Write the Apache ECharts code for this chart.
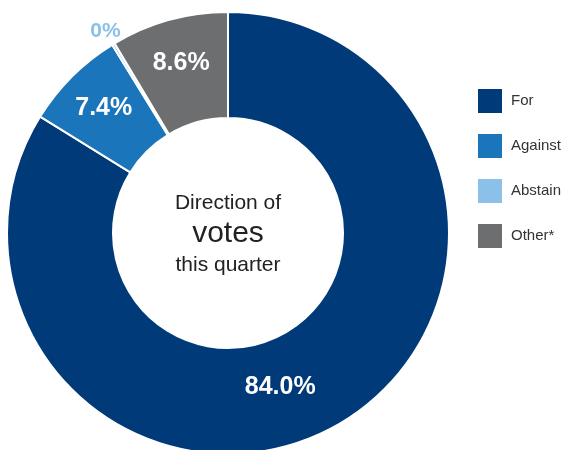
<!DOCTYPE html>
<html><head><meta charset="utf-8">
<script src="https://cdn.jsdelivr.net/npm/echarts@6/dist/echarts.min.js"></script>
<style>html,body{margin:0;padding:0;background:#fff}#c{width:571px;height:450px}</style>
</head><body><div id="c"></div>
<script>
const categories = ['For', 'Against', 'Abstain', 'Other*'];
const values = [84.0, 7.4, 0.2, 8.6];
const labels = ['84.0%', '7.4%', '0%', '8.6%'];
const colors = ['#003A78', '#1B75BB', '#8BC1E9', '#6D6E70'];

const chart = echarts.init(document.getElementById('c'));
const cx = 228, cy = 233, R = 221, r0 = 115;
const total = values.reduce((a, b) => a + b, 0);
function labelPos(i) {
  let cum = 0;
  for (let k = 0; k < i; k++) cum += values[k];
  let mid = (cum + values[i] / 2) / total * 2 * Math.PI;
  let rr = 176;
  if (i === 0) { mid = 161.3 / 180 * Math.PI; rr = 163; }
  if (i === 2) { rr = 236; }
  return [cx + rr * Math.sin(mid), cy - rr * Math.cos(mid)];
}
chart.setOption({
  animation: false,
  legend: {
    orient: 'vertical', left: 476, top: 87, padding: 0,
    itemWidth: 26, itemHeight: 26, itemGap: 17,
    icon: 'rect',
    textStyle: { fontSize: 15, color: '#333', fontFamily: 'Liberation Sans, Arial, sans-serif', padding: [0, 0, 0, 3] },
    data: categories
  },
  graphic: [
    { type: 'text', x: cx, y: 203, style: { text: 'Direction of', fill: '#222', font: '21px "Liberation Sans", Arial, sans-serif', textAlign: 'center', textVerticalAlign: 'middle' } },
    { type: 'text', x: cx, y: 234, style: { text: 'votes', fill: '#222', font: '30px "Liberation Sans", Arial, sans-serif', textAlign: 'center', textVerticalAlign: 'middle' } },
    { type: 'text', x: cx, y: 265, style: { text: 'this quarter', fill: '#222', font: '21px "Liberation Sans", Arial, sans-serif', textAlign: 'center', textVerticalAlign: 'middle' } }
  ],
  series: [{
    type: 'pie',
    center: [cx, cy],
    radius: [r0, R],
    startAngle: 90,
    clockwise: true,
    avoidLabelOverlap: false,
    itemStyle: { borderColor: '#fff', borderWidth: 2 },
    label: {
      show: true, position: 'inside',
      formatter: p => labels[p.dataIndex],
      color: '#fff', fontSize: 25, fontWeight: 'bold',
      fontFamily: 'Liberation Sans, Arial, sans-serif'
    },
    labelLine: { show: false },
    labelLayout: function (p) {
      const pos = labelPos(p.dataIndex);
      return { x: pos[0], y: pos[1], align: 'center', verticalAlign: 'middle' };
    },
    emphasis: { disabled: true },
    data: categories.map((c, i) => ({
      name: c, value: values[i],
      itemStyle: { color: colors[i] },
      label: i === 2 ? { color: '#8BC1E9', fontSize: 21 } : {}
    }))
  }]
});
</script></body></html>
